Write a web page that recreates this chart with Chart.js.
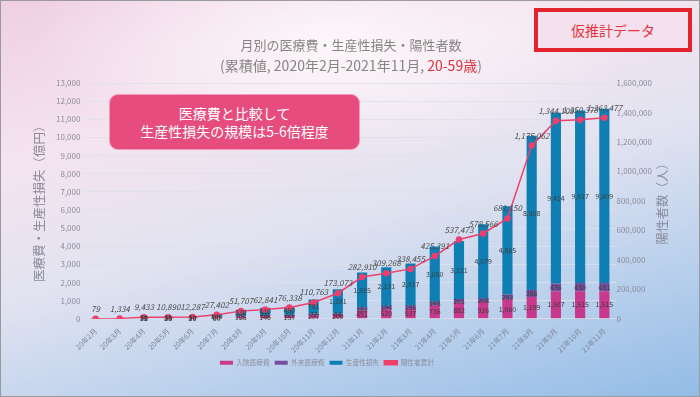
<!DOCTYPE html>
<html>
<head>
<meta charset="utf-8">
<script src="https://cdn.jsdelivr.net/npm/chart.js@4.4.1/dist/chart.umd.min.js"></script>
<style>
  html, body { margin: 0; padding: 0; }
  body {
    width: 700px; height: 397px; overflow: hidden;
    font-family: "Noto Sans CJK JP", "Noto Sans", sans-serif;
  }
  .frame {
    position: relative; width: 698px; height: 395px;
    border: 1px solid #9a9a9a;
    background:
      radial-gradient(ellipse 300px 120px at 330px 40px, rgba(255,255,255,0.75), rgba(255,255,255,0) 100%),
      linear-gradient(165deg, #efcfe3 0%, #f4e4ef 28%, #e2e3f1 52%, #b7cfec 78%, #93bce6 100%);
  }
  canvas { position: absolute; left: 0; top: 0; }
  .title {
    position: absolute; left: 0; width: 700px; text-align: center;
    color: #858585; font-size: 13px; top: 34px;
  }
  .subtitle {
    position: absolute; left: 0; width: 700px; text-align: center;
    color: #858585; font-size: 14px; top: 54px;
  }
  .subtitle span { color: #e8303c; }
  .stamp {
    position: absolute; left: 533px; top: 7px; width: 150px; height: 36px;
    border: 4px solid #e3242f; background: #f3e2ee;
    color: #e8303c; font-size: 14px; line-height: 36px; text-align: center;
  }
  .note {
    position: absolute; left: 108px; top: 93px; width: 251px; height: 56px;
    border-radius: 9px; background: #e64c7e; border: 1px solid #f29ab8;
    color: #fff; font-size: 14px; line-height: 18px; text-align: center;
    padding-top: 9px; box-sizing: border-box;
  }
</style>
</head>
<body>
<div class="frame">
  <canvas id="chart" width="700" height="397"></canvas>
  <div class="title">月別の医療費・生産性損失・陽性者数</div>
  <div class="subtitle">(累積値, 2020年2月-2021年11月, <span>20-59歳</span>)</div>
  <div class="stamp">仮推計データ</div>
  <div class="note">医療費と比較して<br>生産性損失の規模は5-6倍程度</div>
</div>
<script>
// 月
const months = ['20年2月', '20年3月', '20年4月', '20年5月', '20年6月', '20年7月', '20年8月', '20年9月',
  '20年10月', '20年11月', '20年12月', '21年1月', '21年2月', '21年3月', '21年4月', '21年5月',
  '21年6月', '21年7月', '21年8月', '21年9月', '21年10月', '21年11月'];

// 億円
const inpatient = [0.3, 3, 32, 35, 30, 60, 125, 146, 157, 197, 209, 451, 520, 537, 736, 882, 926, 1060, 1199, 1507, 1515, 1515];
const outpatient = [0.2, 2, 18, 20, 20, 30, 45, 55, 60, 77, 84, 182, 194, 195, 198, 201, 208, 283, 386, 436, 450, 451];
const productivity = [0.5, 5, 50, 55, 50, 130, 330, 410, 450, 781, 1331, 1915, 2131, 2317, 3050, 3211, 4079, 4865, 8508, 9414, 9517, 9609];

// 人
const positives = [79, 1334, 9433, 10890, 12287, 27402, 51707, 62841, 76338, 110763, 173073, 282910, 309268,
  338455, 425391, 537473, 578566, 681150, 1175062, 1344109, 1350378, 1363477];

const leftTicks = [0, 13000, 1000];
const rightTicks = [0, 1600000, 200000];

const fontFamily = '"Noto Sans CJK JP", "Noto Sans", sans-serif';
const fmt = v => Math.round(v).toLocaleString('en-US');

// 値ラベル
const valueLabels = {
  id: 'valueLabels',
  afterDatasetsDraw(chart) {
    const ctx = chart.ctx;
    ctx.save();
    ctx.textAlign = 'center';
    ctx.textBaseline = 'middle';
    chart.data.datasets.forEach((ds, i) => {
      const meta = chart.getDatasetMeta(i);
      meta.data.forEach((el, j) => {
        const v = ds.data[j];
        if (ds.type === 'line') {
          ctx.font = 'italic 8px ' + fontFamily;
          ctx.fillStyle = '#4a4a4a';
          ctx.fillText(fmt(v), el.x, el.y - 10);
        } else {
          const total = inpatient[j] + outpatient[j] + productivity[j];
          if (total < 50) return;
          ctx.font = '7px ' + fontFamily;
          ctx.fillStyle = '#3c3c3c';
          ctx.fillText(fmt(v), el.x, (el.y + el.base) / 2);
        }
      });
    });
    ctx.restore();
  }
};

// 右軸タイトル
const rightTitle = {
  id: 'rightTitle',
  afterDraw(chart) {
    const ctx = chart.ctx;
    const area = chart.chartArea;
    ctx.save();
    ctx.translate(661, (area.top + area.bottom) / 2);
    ctx.rotate(-Math.PI / 2);
    ctx.textAlign = 'center';
    ctx.textBaseline = 'middle';
    ctx.font = '12.5px ' + fontFamily;
    ctx.fillStyle = '#8a8a9a';
    ctx.fillText('陽性者数（人）', 0, 0);
    ctx.restore();
  }
};

// 凡例を少し左へ
const legendShift = {
  id: 'legendShift',
  afterLayout(chart) {
    chart.legend.left -= 13;
    chart.legend.right -= 13;
  }
};

const ctx = document.getElementById('chart').getContext('2d');
const chart = new Chart(ctx, {
  type: 'bar',
  data: {
    labels: months,
    datasets: [
      {
        type: 'line',
        label: '陽性者累計',
        data: positives,
        yAxisID: 'y2',
        borderColor: '#ef3f6c',
        backgroundColor: '#ef3f6c',
        borderWidth: 1.5,
        pointRadius: 2.5,
        pointBackgroundColor: '#ef3f6c',
        tension: 0,
        order: 0
      },
      {
        label: '入院医療費',
        data: inpatient,
        backgroundColor: '#c8388c',
        stack: 's',
        barPercentage: 0.42,
        categoryPercentage: 1,
        order: 1
      },
      {
        label: '外来医療費',
        data: outpatient,
        backgroundColor: '#76509f',
        stack: 's',
        barPercentage: 0.42,
        categoryPercentage: 1,
        order: 1
      },
      {
        label: '生産性損失',
        data: productivity,
        backgroundColor: '#0f7fb3',
        stack: 's',
        barPercentage: 0.42,
        categoryPercentage: 1,
        order: 1
      }
    ]
  },
  options: {
    responsive: false,
    animation: false,
    layout: { padding: { top: 82, left: 27, right: 49, bottom: 22 } },
    plugins: {
      legend: {
        position: 'bottom',
        labels: {
          boxWidth: 13,
          boxHeight: 4,
          padding: 5,
          color: '#8c8c9c',
          font: { size: 6.7, family: fontFamily },
          sort: (a, b) => (a.datasetIndex === 0 ? 1 : 0) - (b.datasetIndex === 0 ? 1 : 0)
        }
      },
      tooltip: { enabled: false }
    },
    scales: {
      x: {
        stacked: true,
        grid: { display: false },
        border: { color: 'rgba(215,220,232,0.9)' },
        ticks: {
          color: '#7f8596',
          font: { size: 7.2, family: fontFamily },
          maxRotation: 45,
          minRotation: 45,
          autoSkip: false,
          padding: 0
        }
      },
      y: {
        stacked: true,
        position: 'left',
        min: leftTicks[0],
        max: leftTicks[1],
        ticks: {
          stepSize: leftTicks[2],
          color: '#8c8c9a',
          font: { size: 8, family: fontFamily },
          callback: v => fmt(v),
          padding: 3
        },
        grid: { color: 'rgba(222,224,232,0.85)', drawTicks: false },
        border: { display: false },
        title: {
          display: true,
          text: '医療費・生産性損失（億円）',
          color: '#8a8a9a',
          font: { size: 12.5, family: fontFamily },
          padding: { bottom: 6 }
        }
      },
      y2: {
        position: 'right',
        min: rightTicks[0],
        max: rightTicks[1],
        ticks: {
          stepSize: rightTicks[2],
          color: '#8c8c9a',
          font: { size: 8, family: fontFamily },
          callback: v => fmt(v),
          padding: 0
        },
        grid: { display: false, drawTicks: false },
        border: { display: false }
      }
    }
  },
  plugins: [valueLabels, rightTitle, legendShift]
});
</script>
</body>
</html>
